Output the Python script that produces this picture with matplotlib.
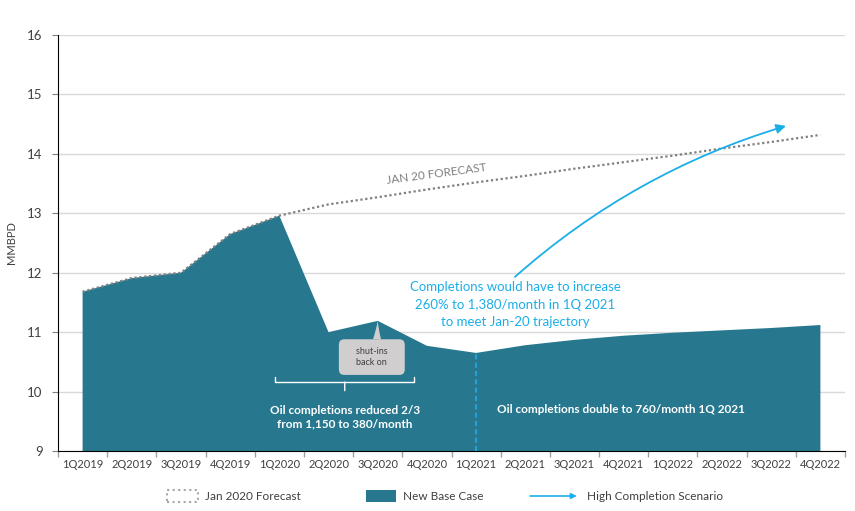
import matplotlib
matplotlib.use("Agg")
import matplotlib.pyplot as plt
from matplotlib.patches import Patch, FancyArrowPatch
from matplotlib.legend_handler import HandlerBase
from matplotlib.lines import Line2D

plt.rcParams['font.family'] = ['Lato', 'DejaVu Sans']

quarters = ['1Q2019', '2Q2019', '3Q2019', '4Q2019', '1Q2020', '2Q2020', '3Q2020', '4Q2020',
            '1Q2021', '2Q2021', '3Q2021', '4Q2021', '1Q2022', '2Q2022', '3Q2022', '4Q2022']
base_case = [11.68, 11.91, 12.00, 12.65, 12.96, 11.00, 11.19, 10.77,
             10.65, 10.78, 10.87, 10.94, 10.99, 11.03, 11.07, 11.12]
jan20_forecast = [11.68, 11.91, 12.00, 12.65, 12.96, 13.15, 13.27, 13.40,
                  13.52, 13.63, 13.75, 13.86, 13.97, 14.09, 14.20, 14.32]
# high completion scenario arrow: start / end (quarter index, MMBPD)
high_start = (8.79, 11.93)
high_end = (14.3, 14.47)

teal = '#27788F'
blue = '#1BAEE8'
gray_txt = '#404040'

fig = plt.figure(figsize=(8.55, 5.11), dpi=100)
ax = fig.add_axes([58/855, 1-451/511, 787/855, 416/511])

x = list(range(len(quarters)))
ax.fill_between(x, 0, base_case, color=teal, lw=0, zorder=2)
ax.plot(x, jan20_forecast, color='#7f7f7f', lw=1.6, linestyle=(0, (1, 1.2)), zorder=3)
ax.vlines(quarters.index('1Q2021'), 9, base_case[quarters.index('1Q2021')],
          colors=blue, linestyles=(0, (3, 2)), lw=1.2, zorder=3)

ax.annotate('', xy=high_end, xytext=high_start,
            arrowprops=dict(arrowstyle='-|>', color=blue, lw=1.3, mutation_scale=14,
                            connectionstyle='arc3,rad=-0.11', shrinkA=0, shrinkB=0), zorder=4)

ax.set_xlim(-0.5, 15.5)
ax.set_ylim(9, 16)
ax.set_yticks(range(9, 17))
ax.set_xticks([i - 0.5 for i in range(17)])
ax.set_xticklabels([])
ax.set_xticks(x, minor=True)
ax.set_xticklabels(quarters, minor=True, fontsize=8, color=gray_txt)
ax.tick_params(axis='x', which='major', length=4, color='#a0a0a0', width=1)
ax.tick_params(axis='x', which='minor', length=0, pad=6)
ax.tick_params(axis='y', length=4, color='#808080', labelsize=9.5, labelcolor=gray_txt, pad=7)
ax.grid(axis='y', color='#d9d9d9', lw=1)
ax.set_axisbelow(True)
for s in ['top', 'right']:
    ax.spines[s].set_visible(False)
ax.spines['left'].set_color('black')
ax.spines['bottom'].set_color('black')
ax.set_ylabel('MMBPD', fontsize=8, color=gray_txt)
ax.yaxis.set_label_coords(-0.052, 0.5)

ax.text(7.2, 13.66, 'JAN 20 FORECAST', color='#808080', fontsize=8.5, rotation=7.5,
        ha='center', va='center')
ax.text(8.79, 11.46, 'Completions would have to increase\n260% to 1,380/month in 1Q 2021\nto meet Jan-20 trajectory',
        color=blue, fontsize=9.5, ha='center', va='center', linespacing=1.55)

ax.annotate('    shut-ins    \n    back on    ', xy=(6, base_case[6]), xytext=(5.88, 10.58),
            ha='center', va='center', fontsize=6.5, color=gray_txt,
            bbox=dict(boxstyle='round,pad=0.9,rounding_size=0.6', fc='#d0cece', ec='none'),
            arrowprops=dict(arrowstyle='wedge,tail_width=0.9,shrink_factor=0.4', fc='#d0cece',
                            ec='none', shrinkA=0, shrinkB=0, relpos=(0.6, 1.0)), zorder=5)

ax.annotate('Oil completions reduced 2/3\nfrom 1,150 to 380/month', xy=(5.33, 10.16), xytext=(5.33, 9.57),
            ha='center', va='center', fontsize=8.5, color='white', fontweight='bold', linespacing=1.35,
            arrowprops=dict(arrowstyle='-[, widthB=5.0, lengthB=0.4', color='white', lw=1,
                            mutation_scale=10, shrinkA=8, shrinkB=0), zorder=5)
ax.text(10.95, 9.69, 'Oil completions double to 760/month 1Q 2021', ha='center', va='center',
        fontsize=8.5, color='white', fontweight='bold', zorder=5)


class ArrowHandler(HandlerBase):
    def create_artists(self, legend, orig, xd, yd, w, h, fontsize, trans):
        a = FancyArrowPatch((-xd - 0.7*w, h/2 - yd), (-xd + w, h/2 - yd), arrowstyle='-|>',
                            mutation_scale=8, color=blue, lw=1.2, transform=trans)
        return [a]


handles = [Patch(facecolor='white', edgecolor='#a6a6a6', linestyle=':', lw=1.5),
           Patch(facecolor=teal, edgecolor='none'),
           Line2D([], [], color=blue)]
labels = ['Jan 2020 Forecast', 'New Base Case', 'High Completion Scenario']
fig.legend(handles, labels, loc='center', bbox_to_anchor=(445/855, 1-496/511), ncol=3,
           frameon=False, fontsize=8.5, handlelength=2.6, handleheight=1.2, columnspacing=5.5,
           handletextpad=0.6, labelcolor=gray_txt,
           handler_map={Line2D: ArrowHandler()})

fig.savefig('out.png', dpi=100)
